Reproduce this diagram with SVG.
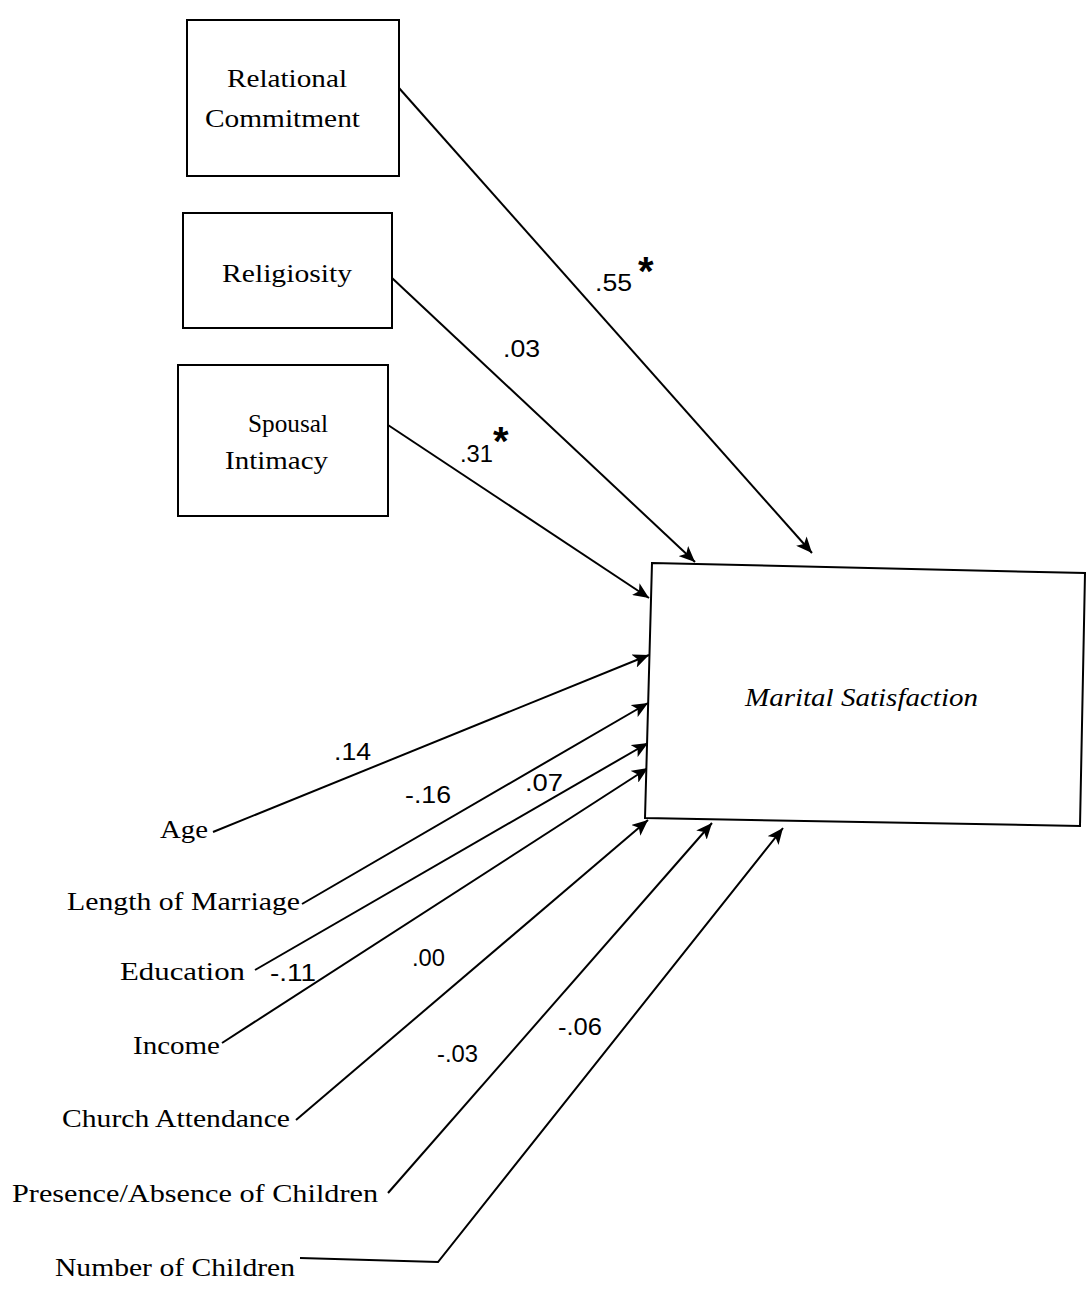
<svg xmlns="http://www.w3.org/2000/svg" width="1089" height="1299" viewBox="0 0 1089 1299">
<defs>
<marker id="ah" markerUnits="userSpaceOnUse" markerWidth="18" markerHeight="14" refX="16" refY="7" orient="auto">
<path d="M0,0 L16,7 L0,14 L4,7 z" fill="#000"/>
</marker>
<style>
.box{fill:#fff;stroke:#000;stroke-width:2}
.lbl{font-family:"Liberation Serif",serif;font-size:26px;fill:#000}
.num{font-family:"Liberation Sans",sans-serif;font-size:23px;fill:#000}
.ast{font-family:"Liberation Sans",sans-serif;font-size:40px;font-weight:bold;fill:#000}
.arr{fill:none;stroke:#000;stroke-width:2;marker-end:url(#ah)}
</style>
</defs>
<rect width="1089" height="1299" fill="#fff"/>

<g id="connectors">
<path class="arr" d="M399,88 L812,553"/>
<path class="arr" d="M392,278 L695,562"/>
<path class="arr" d="M388,425 L649,598"/>
<path class="arr" d="M213,832 L649,655"/>
<path class="arr" d="M302,904 L648,703"/>
<path class="arr" d="M255,970 L648,743"/>
<path class="arr" d="M222,1043 L648,768"/>
<path class="arr" d="M296,1120 L648,820"/>
<path class="arr" d="M388,1193 L712,823"/>
<path class="arr" d="M300,1258 L438,1262 L783,828"/>
</g>

<g id="node-relational-commitment">
<rect class="box" x="187" y="20" width="212" height="156"/>
<text class="lbl" x="227" y="87" textLength="120" lengthAdjust="spacingAndGlyphs">Relational</text>
<text class="lbl" x="205" y="127" textLength="155" lengthAdjust="spacingAndGlyphs">Commitment</text>
</g>
<g id="node-religiosity">
<rect class="box" x="183" y="213" width="209" height="115"/>
<text class="lbl" x="222" y="282" textLength="130" lengthAdjust="spacingAndGlyphs">Religiosity</text>
</g>
<g id="node-spousal-intimacy">
<rect class="box" x="178" y="365" width="210" height="151"/>
<text class="lbl" x="248" y="432" textLength="80" lengthAdjust="spacingAndGlyphs">Spousal</text>
<text class="lbl" x="225" y="469" textLength="103" lengthAdjust="spacingAndGlyphs">Intimacy</text>
</g>
<g id="node-marital-satisfaction">
<path class="box" d="M652,563 L1085,573 L1080,826 L645,818 Z"/>
<text class="lbl" x="745" y="706" font-style="italic" textLength="233" lengthAdjust="spacingAndGlyphs">Marital Satisfaction</text>
</g>

<g id="node-age"><text class="lbl" x="160" y="838" textLength="48" lengthAdjust="spacingAndGlyphs">Age</text></g>
<g id="node-length"><text class="lbl" x="67" y="910" textLength="233" lengthAdjust="spacingAndGlyphs">Length of Marriage</text></g>
<g id="node-education"><text class="lbl" x="120" y="980" textLength="125" lengthAdjust="spacingAndGlyphs">Education</text></g>
<g id="node-income"><text class="lbl" x="133" y="1054" textLength="87" lengthAdjust="spacingAndGlyphs">Income</text></g>
<g id="node-church"><text class="lbl" x="62" y="1127" textLength="228" lengthAdjust="spacingAndGlyphs">Church Attendance</text></g>
<g id="node-presence"><text class="lbl" x="12" y="1202" textLength="366" lengthAdjust="spacingAndGlyphs">Presence/Absence of Children</text></g>
<g id="node-number"><text class="lbl" x="55" y="1276" textLength="240" lengthAdjust="spacingAndGlyphs">Number of Children</text></g>

<g id="labels">
<text class="num" x="595" y="291" textLength="37" lengthAdjust="spacingAndGlyphs">.55</text>
<text class="ast" x="638" y="285">*</text>
<text class="num" x="503" y="357" textLength="37" lengthAdjust="spacingAndGlyphs">.03</text>
<text class="num" x="460" y="462" textLength="33" lengthAdjust="spacingAndGlyphs">.31</text>
<text class="ast" x="493" y="455">*</text>
<text class="num" x="334" y="760" textLength="37" lengthAdjust="spacingAndGlyphs">.14</text>
<text class="num" x="405" y="803" textLength="46" lengthAdjust="spacingAndGlyphs">-.16</text>
<text class="num" x="525" y="791" textLength="38" lengthAdjust="spacingAndGlyphs">.07</text>
<text class="num" x="270" y="981" textLength="46" lengthAdjust="spacingAndGlyphs">-.11</text>
<text class="num" x="412" y="966" textLength="33" lengthAdjust="spacingAndGlyphs">.00</text>
<text class="num" x="437" y="1062" textLength="41" lengthAdjust="spacingAndGlyphs">-.03</text>
<text class="num" x="558" y="1035" textLength="44" lengthAdjust="spacingAndGlyphs">-.06</text>
</g>
</svg>
